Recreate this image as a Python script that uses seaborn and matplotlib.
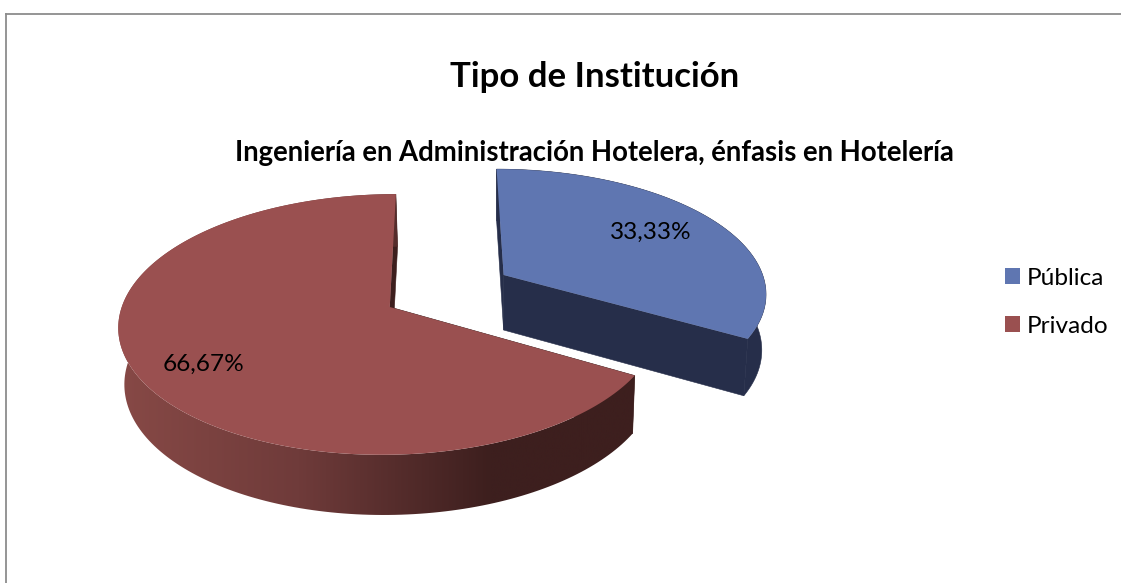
import numpy as np
import seaborn as sns
import matplotlib.pyplot as plt
from matplotlib.colors import LinearSegmentedColormap
from matplotlib.patches import Patch, Polygon

titulo = "Tipo de Institución"
subtitulo = "Ingeniería en Administración Hotelera, énfasis en Hotelería"
categorias = ["Pública", "Privado"]
valores = [33.33, 66.67]

sns.set_theme(style="white")
plt.rcParams["font.family"] = ["Lato", "DejaVu Sans"]
colores = sns.color_palette(["#5f76b1", "#9a5050"])

# perspectiva del pastel: parametros ajustados a ojo
X0, Y0 = 442, 307
A, B, K = 268, 128, 0.134
CX_PRIV, CX_PUB = -0.195, 0.238
CY_PRIV, CY_PUB = 0.0, 0.259
MARGEN_X, MARGEN_Y = 5.5, 13.5


def proyectar(x, y, cx, cy):
    d = 1 + K * (y + cy)
    return X0 + A * (x + cx) / d, Y0 - B * (y + cy) / d, d


def bajar(px, py, d):
    # grosor del disco, el fondo queda un poco mas angosto
    return 500 + (px - 500) * 0.984, py + 56 / np.sqrt(d)


fig = plt.figure(figsize=(11.21, 5.83), dpi=100)
ax = fig.add_axes([MARGEN_X / 1121, 0, 1 - MARGEN_X / 1121, 1 - MARGEN_Y / 583])
ax.set_facecolor("white")


def dibujar_porcion(ini, fin, cx, cy, color, lateral, corte):
    t = np.radians(np.linspace(ini, fin, 200))
    ax_x, ax_y, d = proyectar(np.cos(t), np.sin(t), cx, cy)
    c_x, c_y, c_d = proyectar(0.0, 0.0, cx, cy)
    fondo_x, fondo_y = bajar(ax_x, ax_y, d)
    c_fx, c_fy = bajar(c_x, c_y, c_d)

    # caras planas de los dos cortes
    for i in [0, -1]:
        cara = [(c_x, c_y), (ax_x[i], ax_y[i]), (fondo_x[i], fondo_y[i]), (c_fx, c_fy)]
        ax.add_patch(Polygon(cara, closed=True, fc=corte, ec=corte, lw=0.4, zorder=2))

    # borde exterior
    borde = np.r_[np.c_[ax_x, ax_y], np.c_[fondo_x, fondo_y][::-1]]
    if isinstance(lateral, str):
        ax.add_patch(Polygon(borde, closed=True, fc=lateral, ec=lateral, lw=0.4, zorder=3))
    else:
        img = ax.imshow(np.linspace(0, 1, 256).reshape(1, -1), cmap=lateral, aspect="auto",
                        extent=(ax_x.min(), ax_x.max(), fondo_y.max(), ax_y.min()), zorder=3)
        img.set_clip_path(Polygon(borde, closed=True, transform=ax.transData))

    # cara superior
    tapa = np.r_[[[c_x, c_y]], np.c_[ax_x, ax_y]]
    ax.add_patch(Polygon(tapa, closed=True, fc=color, ec="none", zorder=4))


angulo = 360 * valores[0] / sum(valores)
lado_rojo = LinearSegmentedColormap.from_list(
    "lado", [(0, "#874946"), (0.35, "#6f3b3a"), (0.72, "#3d1f1e"), (1, "#3d1f1e")])

dibujar_porcion(90 - angulo, 90, CX_PUB, CY_PUB, colores[0], "#262e4a", "#262e4a")
dibujar_porcion(90, 90 + 360 - angulo, CX_PRIV, CY_PRIV, colores[1], lado_rojo, "#3d1f1e")

etiquetas = [f"{v:.2f}%".replace(".", ",") for v in valores]
ax.text(651, 232, etiquetas[0], ha="center", va="center", fontsize=17.6, color="black", zorder=5)
ax.text(203, 364, etiquetas[1], ha="center", va="center", fontsize=17.6, color="black", zorder=5)

ax.text(594.5, 77, titulo, ha="center", va="center", fontsize=25, fontweight="bold", color="black")
ax.text(594, 153, subtitulo, ha="center", va="center", fontsize=19.8, fontweight="bold", color="black")

manejadores = [Patch(fc=c, ec="none") for c in colores]
ax.legend(manejadores, categorias, loc="upper left", bbox_to_anchor=(1005, 268),
          bbox_transform=ax.transData, frameon=False, fontsize=17.6, labelcolor="black",
          handlelength=0.62, handleheight=0.62, handletextpad=0.29, labelspacing=1.1,
          borderpad=0, borderaxespad=0)

ax.set_xlim(MARGEN_X, 1121)
ax.set_ylim(583, MARGEN_Y)
ax.set_xticks([])
ax.set_yticks([])
sns.despine(ax=ax, top=False, left=False, right=True, bottom=True)
for lado in ["top", "left"]:
    ax.spines[lado].set_color("#8c8c8c")
    ax.spines[lado].set_linewidth(1.3)

fig.savefig("out.png", dpi=100, facecolor="white")
